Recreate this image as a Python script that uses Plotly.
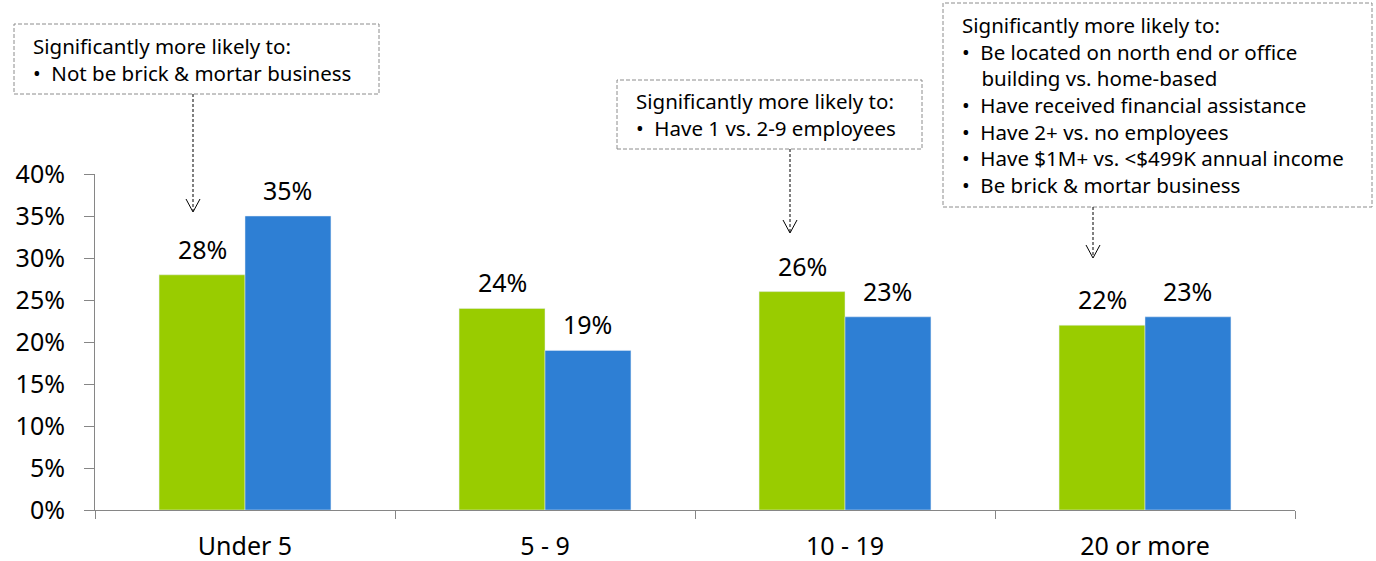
import plotly.graph_objects as go

# Share of businesses by employee-count band, two groups
categories = ["Under 5", "5 - 9", "10 - 19", "20 or more"]
group_a = [28, 24, 26, 22]
group_b = [35, 19, 23, 23]
y_ticks = [0, 5, 10, 15, 20, 25, 30, 35, 40]
y_tick_labels = [f"{v}%" for v in y_ticks]

HEAD = "Significantly more likely to:"
callouts = [
    [HEAD, ("•", "Not be brick & mortar business")],
    [HEAD, ("•", "Have 1 vs. 2-9 employees")],
    [HEAD,
     ("•", "Be located on north end or office"),
     ("", "building vs. home-based"),
     ("•", "Have received financial assistance"),
     ("•", "Have 2+ vs. no employees"),
     ("•", "Have $1M+ vs. <$499K annual income"),
     ("•", "Be brick & mortar business")],
]

GREEN = "#99cc00"
BLUE = "#2e7fd4"
FONT = "Noto Sans"
W, H = 1376, 561
ML, MR, MT, MB = 95, 81, 174, 51
PW, PH = W - ML - MR, H - MT - MB
NOTE_SIZE = 20.5
NB = "\u00a0"


def px(x):
    return (x - ML) / PW


def py(y):
    return (H - MB - y) / PH


fig = go.Figure()
fig.add_trace(go.Bar(x=categories, y=group_a, marker_color=GREEN, name="A"))
fig.add_trace(go.Bar(x=categories, y=group_b, marker_color=BLUE, name="B"))

bar_px = PW / len(categories) * (1 - 0.427) / 2

annotations = []
for vals, sign in ((group_a, -1), (group_b, 1)):
    for c, v in zip(categories, vals):
        annotations.append(dict(
            x=c, y=v, xref="x", yref="y", text=f"{v}%", showarrow=False,
            xanchor="center", yanchor="bottom", xshift=sign * bar_px / 2,
            yshift=7, font=dict(family=FONT, size=25, color="#000000")))

# Callout boxes: (left, top, right, bottom, text left, text middle) in pixels
boxes = [
    (14, 24, 379, 94, 31, 59.5),
    (617, 80, 922, 149, 634, 115),
    (943, 3, 1372, 207, 960, 105.5),
]
arrows = [(193, 94, 212), (790, 149, 233), (1093, 207, 258)]

shapes = []
for (l, t, r, b, tx, tm), lines in zip(boxes, callouts):
    shapes.append(dict(type="rect", xref="paper", yref="paper",
                       x0=px(l), x1=px(r), y0=py(b), y1=py(t),
                       line=dict(color="#8c8c8c", width=1, dash="4px,2px")))
    rows = [lines[0]]
    for bullet, txt in lines[1:]:
        if bullet:
            rows.append(f"{bullet}{NB}{NB}{txt}")
        else:
            rows.append(f"{NB * 3}\u2009{txt}")
    annotations.append(dict(x=px(tx), y=py(tm), xref="paper", yref="paper",
                            text="<br>".join(rows), showarrow=False,
                            xanchor="left", yanchor="middle", align="left",
                            font=dict(family=FONT, size=NOTE_SIZE,
                                      color="#000000")))

for ax, y0, y1 in arrows:
    shapes.append(dict(type="line", xref="paper", yref="paper",
                       x0=px(ax), x1=px(ax), y0=py(y0), y1=py(y1 - 1),
                       line=dict(color="#000000", width=1, dash="3px,2px")))
    shapes.append(dict(type="path", xref="paper", yref="paper",
                       path=f"M {px(ax - 7)},{py(y1 - 13)} L {px(ax)},{py(y1)} "
                            f"L {px(ax + 7)},{py(y1 - 13)}",
                       line=dict(color="#000000", width=1)))

fig.update_layout(
    width=W, height=H,
    margin=dict(l=ML, r=MR, t=MT, b=MB, pad=0, autoexpand=False),
    paper_bgcolor="white", plot_bgcolor="white",
    barmode="group", bargap=0.427, bargroupgap=0,
    showlegend=False,
    font=dict(family=FONT, size=25, color="#000000"),
    xaxis=dict(showline=True, linecolor="#868686", linewidth=1,
               ticks="outside", tickson="boundaries", ticklen=8,
               tickcolor="#868686", showgrid=False, zeroline=False,
               ticklabelstandoff=14, automargin=False,
               tickfont=dict(family=FONT, size=25, color="#000000")),
    yaxis=dict(range=[0, 40], tickvals=y_ticks, ticktext=y_tick_labels,
               showline=True, linecolor="#868686", linewidth=1,
               ticks="outside", ticklen=10, tickcolor="#868686",
               showgrid=False, zeroline=False, ticklabelstandoff=14,
               automargin=False,
               tickfont=dict(family=FONT, size=25, color="#000000")),
    annotations=annotations, shapes=shapes,
)

fig.write_html("out.html")
